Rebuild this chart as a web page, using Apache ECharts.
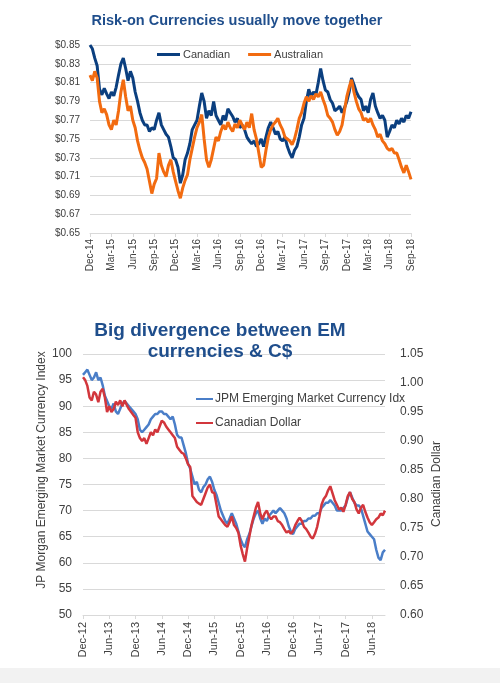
<!DOCTYPE html>
<html>
<head>
<meta charset="utf-8">
<script src="https://cdn.jsdelivr.net/npm/echarts@6/dist/echarts.min.js"></script>
<style>
html,body{margin:0;padding:0;background:#fff;}
#c{width:500px;height:683px;}
</style>
</head>
<body>
<div id="c"></div>
<script>
// ---- Top chart: Risk-on currencies (3 samples per month, Dec-14 .. Sep-18)
const topTicks = ['Dec-14','Mar-15','Jun-15','Sep-15','Dec-15','Mar-16','Jun-16','Sep-16','Dec-16','Mar-17','Jun-17','Sep-17','Dec-17','Mar-18','Jun-18','Sep-18'];
const canadian = [
0.850,0.846,0.836,0.828,0.803,0.797,0.804,0.798,0.793,0.800,0.796,0.805,0.818,0.830,0.836,0.825,0.812,0.822,
0.815,0.800,0.790,0.778,0.770,0.765,0.765,0.758,0.762,0.760,0.770,0.778,0.765,0.760,0.755,0.752,0.742,0.730,
0.728,0.720,0.703,0.712,0.728,0.735,0.745,0.760,0.765,0.770,0.785,0.799,0.790,0.772,0.780,0.775,0.790,0.775,
0.770,0.765,0.775,0.770,0.782,0.778,0.774,0.768,0.772,0.762,0.765,0.760,0.752,0.748,0.745,0.748,0.742,0.745,
0.750,0.742,0.752,0.762,0.768,0.762,0.755,0.758,0.750,0.748,0.752,0.742,0.735,0.730,0.738,0.742,0.752,0.765,
0.772,0.790,0.803,0.795,0.800,0.797,0.810,0.825,0.812,0.802,0.800,0.792,0.788,0.780,0.782,0.785,0.778,0.783,
0.790,0.800,0.815,0.808,0.800,0.795,0.792,0.780,0.785,0.778,0.792,0.799,0.785,0.778,0.772,0.775,0.770,0.752,
0.758,0.765,0.762,0.770,0.766,0.772,0.768,0.775,0.772,0.779
];
const australian = [
0.818,0.812,0.822,0.815,0.790,0.778,0.782,0.776,0.765,0.760,0.770,0.765,0.780,0.800,0.813,0.795,0.780,0.785,
0.770,0.762,0.748,0.738,0.730,0.725,0.718,0.705,0.692,0.702,0.708,0.735,0.722,0.715,0.710,0.722,0.728,0.715,
0.705,0.695,0.687,0.698,0.706,0.712,0.728,0.740,0.752,0.762,0.768,0.776,0.750,0.728,0.720,0.728,0.740,0.752,
0.748,0.758,0.765,0.760,0.768,0.762,0.758,0.766,0.762,0.770,0.765,0.760,0.768,0.762,0.777,0.760,0.750,0.735,
0.720,0.722,0.738,0.752,0.760,0.765,0.768,0.772,0.765,0.760,0.752,0.750,0.748,0.744,0.750,0.760,0.772,0.778,
0.788,0.795,0.790,0.796,0.792,0.798,0.795,0.800,0.792,0.785,0.775,0.772,0.768,0.760,0.754,0.758,0.765,0.780,
0.795,0.805,0.813,0.800,0.790,0.782,0.778,0.770,0.772,0.768,0.772,0.765,0.760,0.752,0.755,0.748,0.745,0.740,
0.738,0.740,0.735,0.735,0.728,0.720,0.714,0.722,0.715,0.707
];

// ---- Bottom chart: EM currencies vs C$ (2 samples per month, Dec-12 .. Sep-18)
const botTicks = ['Dec-12','Jun-13','Dec-13','Jun-14','Dec-14','Jun-15','Dec-15','Jun-16','Dec-16','Jun-17','Dec-17','Jun-18'];
const jpmIdx = [
96,96.5,97,96,95,95.5,96.5,95,95.5,94,92,91,90,89.5,90.5,89,88.5,89.5,90.5,91,90.5,90,89.5,89,88.5,87.5,85.5,85,
85.5,86,86.5,87.5,88,88.5,88.5,89,89,88.5,88.5,88,87.5,88,86.5,84.5,84,84,82.5,81,79,78,76.5,75,75.5,74,73.5,
74.5,75,76,76.5,75.5,74,73,71.5,70,69,68,67.5,68.5,69.5,68.5,67.5,66,64.5,63.5,63,64.5,65.5,67,68.5,69.5,70,
68.5,67.5,68.5,68,69,69.5,70,69.5,70,70.5,70,69.5,68.5,67,66,65.5,66.5,67,67.5,67.5,68,68,68.5,68.5,69,69,
69.5,69.5,70.5,71,71.5,71.5,72,71.5,71,70,70,70,70.5,71,72.5,73.5,72.5,71.5,71,71,70.5,69,67.5,66,65.5,65,
64.5,62.5,61,60.5,62,62.5
];
const cadDollar = [
1.010,1.005,0.995,0.975,0.970,0.985,0.980,0.967,0.985,0.990,0.975,0.950,0.960,0.950,0.955,0.968,0.962,0.970,
0.960,0.970,0.962,0.955,0.950,0.945,0.940,0.915,0.905,0.900,0.905,0.895,0.905,0.915,0.910,0.920,0.915,0.925,
0.935,0.932,0.925,0.920,0.915,0.910,0.905,0.890,0.885,0.880,0.878,0.870,0.860,0.855,0.805,0.800,0.795,0.792,
0.790,0.800,0.810,0.820,0.825,0.812,0.810,0.790,0.770,0.765,0.760,0.755,0.752,0.760,0.770,0.755,0.750,0.742,
0.720,0.705,0.692,0.715,0.735,0.755,0.770,0.785,0.795,0.775,0.765,0.775,0.780,0.770,0.765,0.770,0.770,0.762,
0.760,0.755,0.748,0.742,0.745,0.740,0.745,0.755,0.762,0.768,0.762,0.752,0.748,0.742,0.735,0.732,0.740,0.752,
0.770,0.790,0.800,0.805,0.815,0.822,0.810,0.798,0.790,0.782,0.785,0.778,0.790,0.805,0.812,0.800,0.795,0.782,
0.775,0.785,0.790,0.778,0.768,0.760,0.755,0.760,0.765,0.768,0.775,0.772,0.780
];

const FONT = 'Liberation Sans, Arial, sans-serif';
const TXT = '#404040';
const GRID = '#d9d9d9';
const botTickVals = botTicks.map((_, i) => i * 6);

const chart = echarts.init(document.getElementById('c'), null, {renderer: 'canvas'});
chart.setOption({
  animation: false,
  backgroundColor: '#fff',
  textStyle: {fontFamily: FONT},
  title: [
    {text: 'Risk-on Currencies usually move together', left: 237, top: 13, padding: 0, textAlign: 'center',
     textStyle: {fontSize: 14.5, fontWeight: 'bold', color: '#1F4E8C', fontFamily: FONT}},
    {text: 'Big divergence between EM\ncurrencies & C$', left: 220, top: 320, padding: 0, textAlign: 'center',
     textStyle: {fontSize: 19, fontWeight: 'bold', color: '#1F4E8C', fontFamily: FONT, lineHeight: 21}}
  ],
  legend: [
    {data: ['Canadian', 'Australian'], left: 157, top: 49, padding: 0, icon: 'rect', itemWidth: 23, itemHeight: 3,
     itemGap: 18, textStyle: {fontSize: 11, color: TXT, fontFamily: FONT, padding: [0,0,0,-2]}},
    {data: ['JPM Emerging Market Currency Idx', 'Canadian Dollar'], left: 196, top: 393, padding: 0, orient: 'vertical',
     icon: 'rect', itemWidth: 17, itemHeight: 2, itemGap: 12,
     textStyle: {fontSize: 12, color: TXT, fontFamily: FONT, padding: [0,0,0,-3]}}
  ],
  grid: [
    {left: 90, right: 89, top: 45, bottom: 450},
    {left: 83, right: 115, top: 354, bottom: 68}
  ],
  xAxis: [
    {gridIndex: 0, type: 'value', min: 0, max: 45, interval: 3,
     axisLine: {lineStyle: {color: GRID}}, axisTick: {show: true, length: 4, lineStyle: {color: GRID}},
     splitLine: {show: false},
     axisLabel: {rotate: 90, fontSize: 10, color: TXT, margin: 6, fontFamily: FONT,
       formatter: v => topTicks[Math.round(v / 3)] || ''}},
    {gridIndex: 1, type: 'value', min: 0, max: 69,
     axisLine: {lineStyle: {color: GRID}},
     axisTick: {show: true, length: 4, lineStyle: {color: GRID}, customValues: botTickVals},
     splitLine: {show: false},
     axisLabel: {rotate: 90, fontSize: 11, color: TXT, margin: 7, fontFamily: FONT, customValues: botTickVals,
       formatter: v => botTicks[Math.round(v / 6)] || ''}}
  ],
  yAxis: [
    {gridIndex: 0, type: 'value', min: 0.65, max: 0.85, interval: 0.02,
     axisLine: {show: false}, axisTick: {show: false},
     splitLine: {lineStyle: {color: GRID}},
     axisLabel: {fontSize: 10, color: TXT, margin: 10, fontFamily: FONT, formatter: v => '$' + v.toFixed(2)}},
    {gridIndex: 1, type: 'value', min: 50, max: 100, interval: 5,
     axisLine: {show: false}, axisTick: {show: false},
     splitLine: {lineStyle: {color: GRID}},
     axisLabel: {fontSize: 12, color: TXT, margin: 11, fontFamily: FONT}},
    {gridIndex: 1, type: 'value', position: 'right', min: 0.6, max: 1.05, interval: 0.05,
     axisLine: {show: false}, axisTick: {show: false}, splitLine: {show: false},
     axisLabel: {fontSize: 12, color: TXT, margin: 15, fontFamily: FONT, formatter: v => v.toFixed(2)}}
  ],
  series: [
    {name: 'Canadian', type: 'line', xAxisIndex: 0, yAxisIndex: 0, showSymbol: false,
     lineStyle: {width: 3, color: '#0B3F7F'}, itemStyle: {color: '#0B3F7F'},
     data: canadian.map((v, i) => [i / 3, v])},
    {name: 'Australian', type: 'line', xAxisIndex: 0, yAxisIndex: 0, showSymbol: false,
     lineStyle: {width: 3, color: '#F26B10'}, itemStyle: {color: '#F26B10'},
     data: australian.map((v, i) => [i / 3, v])},
    {name: 'JPM Emerging Market Currency Idx', type: 'line', xAxisIndex: 1, yAxisIndex: 1, showSymbol: false,
     lineStyle: {width: 2.5, color: '#4A7EC8'}, itemStyle: {color: '#4A7EC8'},
     data: jpmIdx.map((v, i) => [i / 2, v])},
    {name: 'Canadian Dollar', type: 'line', xAxisIndex: 1, yAxisIndex: 2, showSymbol: false,
     lineStyle: {width: 2.5, color: '#D2363C'}, itemStyle: {color: '#D2363C'},
     data: cadDollar.map((v, i) => [i / 2, v])}
  ],
  graphic: [
    {type: 'rect', left: 0, top: 668, shape: {width: 500, height: 15}, style: {fill: '#f2f2f2'}, silent: true},
    {type: 'text', x: 42, y: 470, rotation: Math.PI / 2,
     style: {text: 'JP Morgan Emerging Market Currency Index', fontSize: 12, fill: TXT, fontFamily: FONT,
       align: 'center', verticalAlign: 'middle'}},
    {type: 'text', x: 437, y: 484, rotation: Math.PI / 2,
     style: {text: 'Canadian Dollar', fontSize: 12, fill: TXT, fontFamily: FONT,
       align: 'center', verticalAlign: 'middle'}}
  ]
});
</script>
</body>
</html>
